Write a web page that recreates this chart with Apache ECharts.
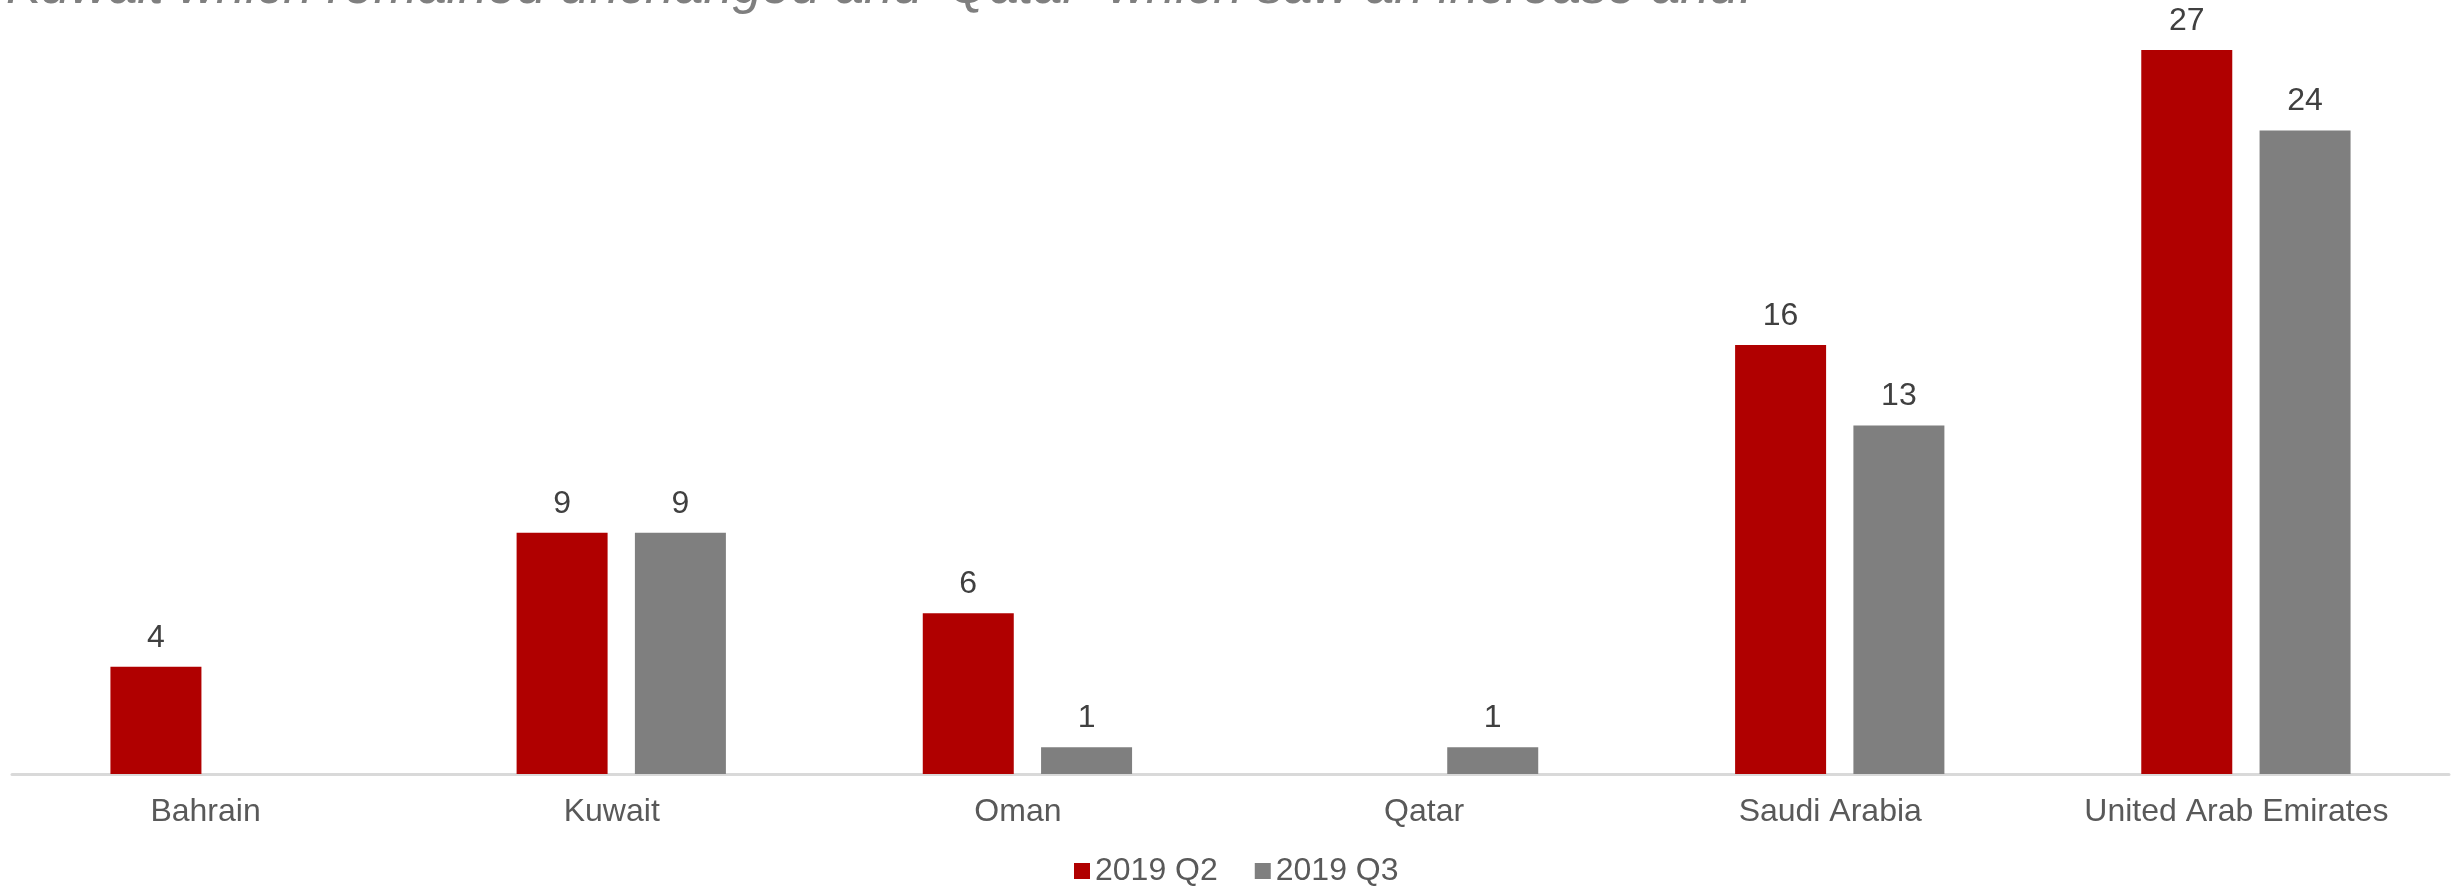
<!DOCTYPE html>
<html>
<head>
<meta charset="utf-8">
<script src="https://cdn.jsdelivr.net/npm/echarts@6/dist/echarts.min.js"></script>
<style>
  html, body { margin: 0; padding: 0; background: #ffffff; }
  #chart { width: 2453px; height: 887px; }
</style>
</head>
<body>
<div id="chart"></div>
<script>
// Countries on the category axis
const countries = ['Bahrain', 'Kuwait', 'Oman', 'Qatar', 'Saudi Arabia', 'United Arab Emirates'];
// Counts per quarter (null = no value reported)
const q2Values = [4, 9, 6, null, 16, 27];
const q3Values = [null, 9, 1, 1, 13, 24];
const seriesNames = ['2019 Q2', '2019 Q3'];
const headline = 'Kuwait which remained unchanged and \u2018Qatar\u2019 which saw an increase and.';

const FONT = '"Liberation Sans", Arial, sans-serif';

const chart = echarts.init(document.getElementById('chart'), null, { renderer: 'canvas' });

const valueLabel = {
  show: true,
  position: 'top',
  distance: 13,
  fontSize: 32,
  fontFamily: FONT,
  color: '#404040'
};

chart.setOption({
  backgroundColor: '#ffffff',
  animation: false,
  graphic: [{
    type: 'text',
    left: 6,
    top: -38,
    style: {
      text: headline,
      fontSize: 52.5,
      fontStyle: 'italic',
      fontFamily: FONT,
      fill: '#7f7f7f'
    }
  }],
  legend: {
    data: seriesNames,
    left: 1074,
    top: 855,
    padding: 0,
    icon: 'rect',
    itemWidth: 16,
    itemHeight: 16,
    itemGap: 37,
    textStyle: { fontSize: 32, fontFamily: FONT, color: '#595959' }
  },
  grid: { left: 12, right: 4, top: 23.3, bottom: 113, containLabel: false },
  xAxis: {
    type: 'category',
    data: countries,
    axisLine: { show: true, lineStyle: { color: '#d9d9d9', width: 3 } },
    axisTick: { show: false },
    axisLabel: {
      margin: 22,
      fontSize: 32,
      fontFamily: FONT,
      color: '#595959',
      padding: [0, 19, 0, 0]
    }
  },
  yAxis: {
    type: 'value',
    min: 0,
    max: 28,
    show: false,
    splitLine: { show: false }
  },
  series: [
    {
      name: seriesNames[0],
      type: 'bar',
      data: q2Values,
      barWidth: 91,
      barGap: '30%',
      itemStyle: { color: '#b00000' },
      label: valueLabel
    },
    {
      name: seriesNames[1],
      type: 'bar',
      data: q3Values,
      barWidth: 91,
      barGap: '30%',
      itemStyle: { color: '#7f7f7f' },
      label: valueLabel
    }
  ]
});
</script>
</body>
</html>
